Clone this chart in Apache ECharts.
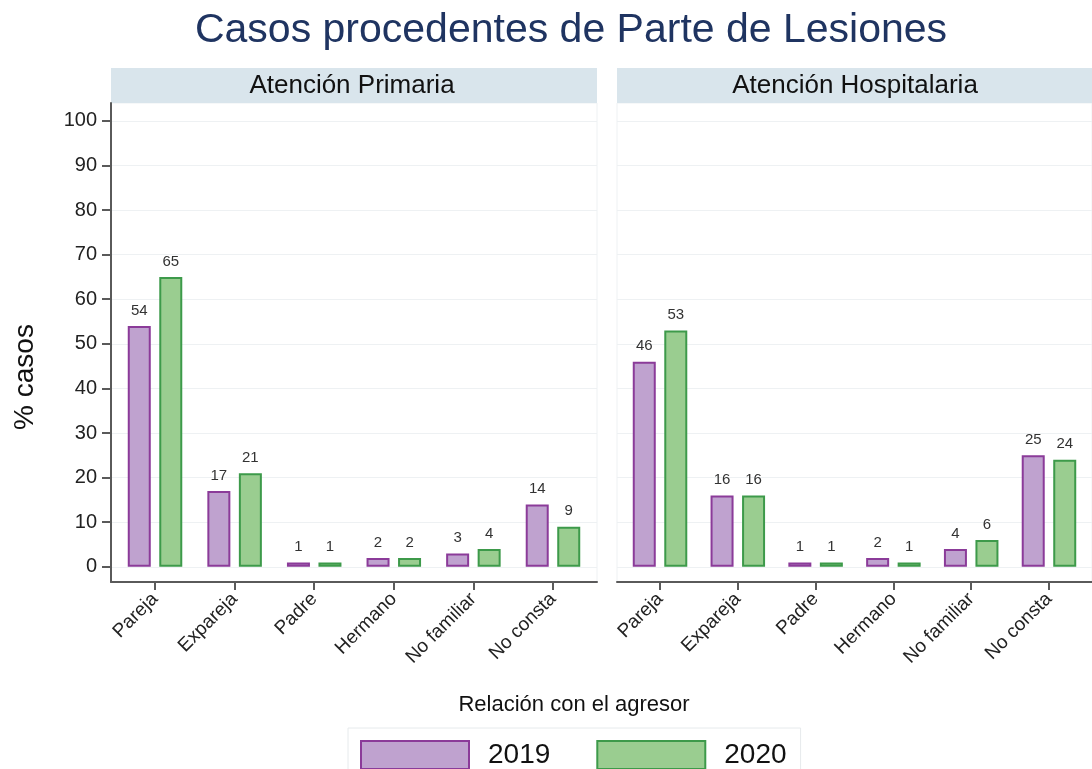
<!DOCTYPE html>
<html>
<head>
<meta charset="utf-8">
<script src="https://cdn.jsdelivr.net/npm/echarts@6/dist/echarts.min.js"></script>
<style>
  html, body { margin: 0; padding: 0; background: #fff; }
  #chart { width: 1092px; height: 769px; }
</style>
</head>
<body>
<div id="chart"></div>
<script>
var categories = ["Pareja", "Expareja", "Padre", "Hermano", "No familiar", "No consta"];
var primaria2019 = [54, 17, 1, 2, 3, 14];
var primaria2020 = [65, 21, 1, 2, 4, 9];
var hospital2019 = [46, 16, 1, 2, 4, 25];
var hospital2020 = [53, 16, 1, 1, 6, 24];
var yTicks = [0, 10, 20, 30, 40, 50, 60, 70, 80, 90, 100];
var xTicks = [0, 1, 2, 3, 4, 5];

var FONT = "'Liberation Sans', Arial, sans-serif";
var AXIS = "#5a5a5a";
var GRIDLINE = "#eef1f3";

function pairs(arr) {
  return arr.map(function (v, i) { return [i, v]; });
}

var myChart = echarts.init(document.getElementById("chart"));

function xAxisFor(gridIndex) {
  return {
    type: "value",
    gridIndex: gridIndex,
    min: -0.553,
    max: 5.553,
    axisLine: { show: true, onZero: false, lineStyle: { color: AXIS, width: 2 } },
    axisTick: { show: true, length: 8, customValues: xTicks, lineStyle: { color: AXIS, width: 2 } },
    axisLabel: {
      customValues: xTicks,
      rotate: 45,
      margin: 14,
      fontSize: 19,
      fontFamily: FONT,
      color: "#222",
      formatter: function (v) { return categories[Math.round(v)]; }
    },
    splitLine: { show: false }
  };
}

function yAxisFor(gridIndex, showAxis) {
  return {
    type: "value",
    gridIndex: gridIndex,
    min: -3.4,
    max: 104,
    axisLine: { show: showAxis, onZero: false, lineStyle: { color: AXIS, width: 2 } },
    axisTick: { show: showAxis, length: 9, customValues: yTicks, lineStyle: { color: AXIS, width: 2 } },
    axisLabel: {
      show: showAxis,
      customValues: yTicks,
      margin: 14,
      fontSize: 20,
      fontFamily: FONT,
      color: "#222"
    },
    splitLine: { show: true, lineStyle: { color: GRIDLINE, width: 1 } }
  };
}

var labelStyle = {
  show: true,
  position: "top",
  distance: 8,
  fontSize: 15,
  fontFamily: FONT,
  color: "#333"
};
var style2019 = { color: "#bfa2cf", borderColor: "#8b3b99", borderWidth: 2 };
var style2020 = { color: "#9acd90", borderColor: "#3d9a4a", borderWidth: 2 };

function barSeries(name, data, idx, style) {
  return {
    name: name,
    type: "bar",
    xAxisIndex: idx,
    yAxisIndex: idx,
    barWidth: 23,
    barGap: "37%",
    data: pairs(data),
    itemStyle: style,
    label: labelStyle
  };
}

var option = {
  animation: false,
  backgroundColor: "#fff",
  textStyle: { fontFamily: FONT },
  grid: [
    { left: 111, top: 103, width: 486, height: 479, show: true, borderColor: GRIDLINE, borderWidth: 1 },
    { left: 617, top: 103, width: 486, height: 479, show: true, borderColor: GRIDLINE, borderWidth: 1 }
  ],
  xAxis: [xAxisFor(0), xAxisFor(1)],
  yAxis: [yAxisFor(0, true), yAxisFor(1, false)],
  legend: {
    left: 348,
    top: 728,
    orient: "horizontal",
    itemWidth: 108,
    itemHeight: 28,
    itemGap: 46,
    padding: [12, 14, 4, 12],
    borderColor: "#e6eaec",
    borderWidth: 1,
    icon: "rect",
    textStyle: { fontSize: 28, fontFamily: FONT, color: "#111", padding: [0, 0, 0, 14] },
    data: ["2019", "2020"]
  },
  graphic: [
    {
      type: "text",
      x: 571, y: 31,
      style: { text: "Casos procedentes de Parte de Lesiones", font: "41px " + FONT, fill: "#1f3461", textAlign: "center", textVerticalAlign: "middle" }
    },
    { type: "rect", shape: { x: 111, y: 68, width: 486, height: 35 }, style: { fill: "#d9e5ec" } },
    { type: "rect", shape: { x: 617, y: 68, width: 490, height: 35 }, style: { fill: "#d9e5ec" } },
    {
      type: "text",
      x: 352, y: 86,
      style: { text: "Atención Primaria", font: "26px " + FONT, fill: "#111", textAlign: "center", textVerticalAlign: "middle" }
    },
    {
      type: "text",
      x: 855, y: 86,
      style: { text: "Atención Hospitalaria", font: "26px " + FONT, fill: "#111", textAlign: "center", textVerticalAlign: "middle" }
    },
    {
      type: "text",
      x: 25, y: 377,
      rotation: Math.PI / 2,
      style: { text: "% casos", font: "28px " + FONT, fill: "#111", textAlign: "center", textVerticalAlign: "middle" }
    },
    {
      type: "text",
      x: 574, y: 705,
      style: { text: "Relación con el agresor", font: "22px " + FONT, fill: "#111", textAlign: "center", textVerticalAlign: "middle" }
    }
  ],
  series: [
    barSeries("2019", primaria2019, 0, style2019),
    barSeries("2020", primaria2020, 0, style2020),
    barSeries("2019", hospital2019, 1, style2019),
    barSeries("2020", hospital2020, 1, style2020)
  ]
};

myChart.setOption(option);
</script>
</body>
</html>
